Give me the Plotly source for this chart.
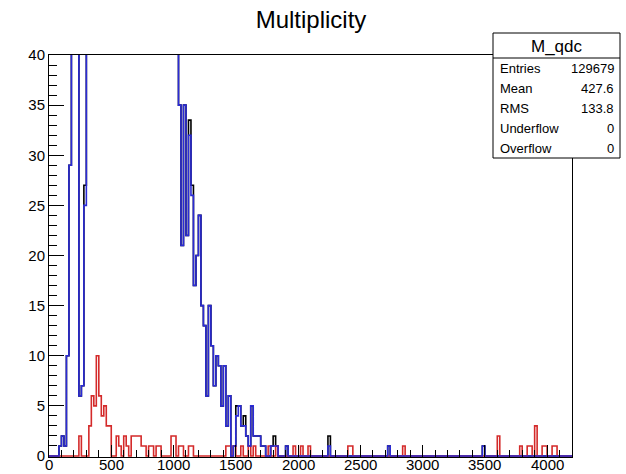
import numpy as np
import plotly.graph_objects as go

# ---------------- data ----------------
BIN_W = 20
X_MAX = 4200

# blue histogram (bin low edge -> count); values above 40 are off-scale
blue_lo = [80, 100, 120, 140, 160, 180, 200, 220, 240, 260, 280,
           300, 320, 340, 360, 380, 400, 420, 440, 460, 480, 500, 520, 540, 560,
           580, 600, 620, 640, 660, 680, 700, 720, 740, 760, 780, 800, 820, 840,
           860, 880, 900, 920, 940, 960, 980, 1000, 1020,
           1040, 1060, 1080, 1100, 1120, 1140, 1160, 1180, 1200, 1220, 1240, 1260,
           1280, 1300, 1320, 1340, 1360, 1380, 1400, 1420, 1440,
           1480, 1500, 1520, 1540, 1560, 1580, 1600, 1620, 1640, 1660, 1680, 1700,
           1720, 1780, 1800, 1820, 1900, 2240, 2720, 3480]
blue_cnt = [1, 2, 1, 10, 29, 520, 910, 640, 6, 7, 25,
            150, 310, 480, 650, 800, 890, 930, 910, 860, 790, 710, 630, 550, 480,
            410, 350, 300, 260, 220, 190, 165, 145, 128, 113, 100, 90, 82, 75,
            69, 63, 59, 55, 52, 49, 47, 45, 45,
            35, 21, 35, 22, 32, 26, 17, 20, 24, 15, 13, 6,
            15, 11, 7, 10, 9, 5, 9, 3, 6,
            1, 4, 5, 3, 3, 2, 1, 5, 2, 2, 2, 1,
            1, 1, 1, 1, 1, 1, 1, 1]

# black histogram: same as blue except these bins
black_diff_lo = [280, 1120, 1140, 1500, 1560, 1800, 2240]
black_diff_cnt = [27, 33.5, 27, 5, 4, 2, 2]

# red histogram
red_lo = [240, 320, 340, 360, 380, 400, 420, 440, 460, 480, 540, 560, 600, 620,
          660, 680, 700, 720, 740, 760, 800, 820, 860, 880, 980, 1000, 1040, 1060,
          1120, 1140, 1420, 1440, 1480, 1540, 1600, 1640, 1760, 1820, 1960, 2020,
          2080, 2400, 2420, 2840, 3600, 3780, 3840, 3860, 3900, 3960, 3980, 4040, 4060]
red_cnt = [2, 3, 6, 5, 10, 6, 4, 5, 3, 3, 2, 1, 2, 1,
           2, 2, 2, 2, 1, 1, 1, 1, 1, 1, 2, 2, 1, 1,
           1, 1, 1, 1, 1, 1, 1, 1, 1, 1, 1, 1,
           1, 1, 1, 1, 2, 1, 1, 1, 3, 1, 1, 1, 1]

x_ticks = [0, 500, 1000, 1500, 2000, 2500, 3000, 3500, 4000]
y_ticks = [0, 5, 10, 15, 20, 25, 30, 35, 40]

stats_title = "M_qdc"
stats_names = ["Entries", "Mean", "RMS", "Underflow", "Overflow"]
stats_vals = ["129679", "427.6", "133.8", "0", "0"]

# ---------------- build ----------------
edges = np.arange(0, X_MAX + BIN_W, BIN_W)
nb = len(edges) - 1


def make_hist(lo, cnt, base=None):
    arr = np.zeros(nb) if base is None else base.copy()
    for l, c in zip(lo, cnt):
        arr[int(l // BIN_W)] = c
    return arr


blue = make_hist(blue_lo, blue_cnt)
black = make_hist(black_diff_lo, black_diff_cnt, base=blue)
red = make_hist(red_lo, red_cnt)

FONT = "Liberation Sans, Arial, Helvetica, sans-serif"

fig = go.Figure()
for arr, col, w in [(black, "#000000", 1.6), (red, "#d42a2a", 1.6), (blue, "#2b2bd6", 1.6)]:
    fig.add_trace(go.Scatter(
        x=edges, y=np.append(arr, arr[-1]), mode="lines",
        line=dict(shape="hv", color=col, width=w),
        hoverinfo="skip", showlegend=False))

L, R, T, B = 49, 54, 55, 17
W, H = 626, 474
pw, ph = W - L - R, H - T - B


def px(x):
    return (x - L) / pw


def py(y):
    return (H - B - y) / ph


shapes = [
    dict(type="rect", xref="paper", yref="paper", x0=px(493), x1=px(620), y0=py(158), y1=py(33),
         line=dict(color="black", width=1), fillcolor="white", layer="above"),
    dict(type="line", xref="paper", yref="paper", x0=px(493), x1=px(620), y0=py(58), y1=py(58),
         line=dict(color="black", width=1), layer="above"),
]
ann = [dict(text=stats_title, xref="paper", yref="paper", x=px(557), y=py(46),
            xanchor="center", yanchor="middle", showarrow=False,
            font=dict(family=FONT, size=17, color="black"))]
row_y = [69, 88.5, 108, 128, 148]
for name, val, yy in zip(stats_names, stats_vals, row_y):
    ann.append(dict(text=name, xref="paper", yref="paper", x=px(498), y=py(yy),
                    xanchor="left", yanchor="middle", showarrow=False,
                    font=dict(family=FONT, size=13, color="black")))
    ann.append(dict(text=val, xref="paper", yref="paper", x=px(616), y=py(yy),
                    xanchor="right", yanchor="middle", showarrow=False,
                    font=dict(family=FONT, size=13, color="black")))

# x tick labels as annotations placed just below the frame
for v in x_ticks:
    ann.append(dict(text=str(v), xref="x", yref="paper", x=v, y=py(465),
                    xanchor="center", yanchor="middle", showarrow=False,
                    font=dict(family=FONT, size=15, color="black")))

fig.update_layout(
    width=W, height=H,
    margin=dict(l=L, r=R, t=T, b=B, pad=0),
    paper_bgcolor="white", plot_bgcolor="white",
    title=dict(text="Multiplicity", x=px(311), xref="paper", xanchor="center",
               y=1 - 20 / H, yref="container", yanchor="middle",
               font=dict(family=FONT, size=24, color="black")),
    shapes=shapes, annotations=ann,
    xaxis=dict(range=[0, X_MAX], tickvals=x_ticks, showticklabels=False,
               ticks="inside", ticklen=12, tickcolor="black", tickwidth=1,
               showline=True, mirror=True, linecolor="black", linewidth=1,
               showgrid=False, zeroline=False, automargin=False,
               minor=dict(ticks="inside", ticklen=7, dtick=100, tick0=0,
                          tickcolor="black", showgrid=False)),
    yaxis=dict(range=[-0.1, 40], tickvals=y_ticks, ticktext=[str(v) for v in y_ticks],
               ticks="inside", ticklen=15, tickcolor="black", tickwidth=1,
               showline=True, mirror=True, linecolor="black", linewidth=1,
               showgrid=False, zeroline=False, automargin=False,
               tickfont=dict(family=FONT, size=15, color="black"),
               minor=dict(ticks="inside", ticklen=8, dtick=1, tick0=0,
                          tickcolor="black", showgrid=False)),
)

fig.write_html("out.html")
